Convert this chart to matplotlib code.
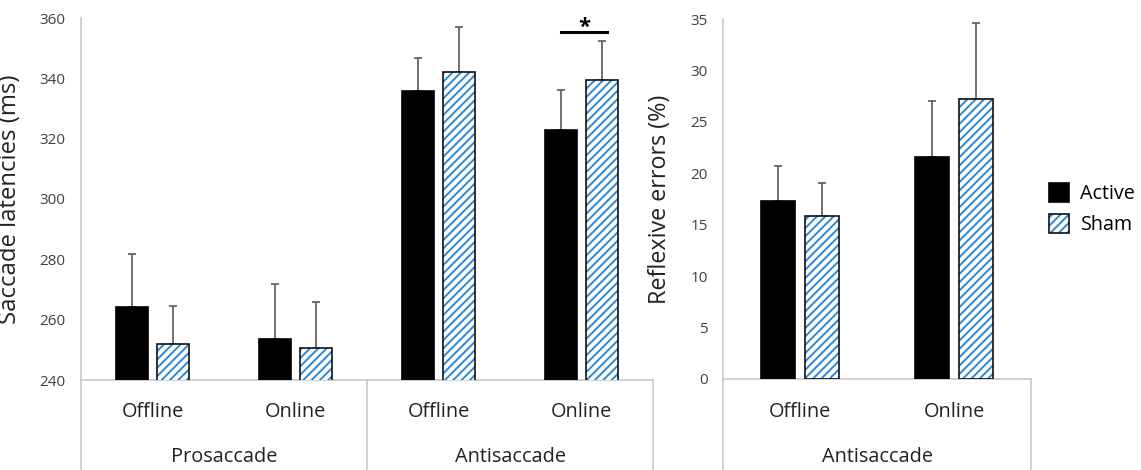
import matplotlib
matplotlib.use("Agg")
import matplotlib.pyplot as plt
import numpy as np
from matplotlib.lines import Line2D
from matplotlib.legend_handler import HandlerTuple

plt.rcParams['font.family'] = ['Open Sans', 'DejaVu Sans']
plt.rcParams['hatch.linewidth'] = 1.4

# ---- data ----
conditions = ["Offline", "Online"]
groups_left = ["Prosaccade", "Antisaccade"]
groups_right = ["Antisaccade"]
series = ["Active", "Sham"]

# Saccade latencies (ms): Prosaccade Offline, Prosaccade Online, Antisaccade Offline, Antisaccade Online
lat_active = [264.1, 253.7, 335.9, 323.0]
lat_active_err = [17.7, 18.0, 10.9, 13.0]
lat_sham = [251.9, 250.6, 342.2, 339.6]
lat_sham_err = [12.5, 15.4, 14.8, 12.8]

# Reflexive errors (%): Antisaccade Offline, Antisaccade Online
err_active = [17.3, 21.6]
err_active_err = [3.45, 5.45]
err_sham = [15.8, 27.2]
err_sham_err = [3.3, 7.4]

lat_ticks = [240, 260, 280, 300, 320, 340, 360]
err_ticks = [0, 5, 10, 15, 20, 25, 30, 35]

W, H = 1141, 470
fig = plt.figure(figsize=(W / 100, H / 100), dpi=100)

def fx(px):
    return px / W

def fy(py):
    return 1 - py / H

axis_col = '#C8C8C8'
ebar_col = '#595959'
hatch_col = '#2E88D4'
text_col = '#222222'

bw = 0.22
off = 0.142

def draw_bars(ax, active, aerr, sham, serr):
    n = len(active)
    x = np.arange(n) + 0.5
    za = np.zeros(n)
    ekw = dict(ecolor=ebar_col, elinewidth=1.2, capsize=3, capthick=1.2, zorder=2)
    b1 = ax.bar(x - off, active, bw, color='black', edgecolor='black', linewidth=1.2,
                yerr=[za, aerr], error_kw=ekw, zorder=3)
    b2h = ax.bar(x + off, sham, bw, color='white', edgecolor=hatch_col, linewidth=0, hatch='////',
                 yerr=[za, serr], error_kw=ekw, zorder=3)
    b2o = ax.bar(x + off, sham, bw, fill=False, edgecolor='#111111', linewidth=1.2, zorder=4)
    ax.set_xlim(0, n)
    return b1, (b2h, b2o)

# ---- left axes ----
axL = fig.add_axes([fx(81), fy(380), fx(653) - fx(81), fy(18) - fy(380)])
b1, b2 = draw_bars(axL, lat_active, lat_active_err, lat_sham, lat_sham_err)
axL.set_ylim(lat_ticks[0], lat_ticks[-1])
axL.set_yticks(lat_ticks)
axL.set_xticks([])
for s in ['top', 'right', 'left']:
    axL.spines[s].set_visible(False)
axL.spines['bottom'].set_color(axis_col)
axL.spines['bottom'].set_linewidth(1.2)
axL.tick_params(axis='y', length=0, pad=11.5, labelsize=11, labelcolor='#404040')
axL.set_ylabel("Saccade latencies (ms)", fontsize=17.2, color=text_col)
axL.yaxis.set_label_coords((22 - 81) / 572, 0.5)

# significance marker
axL.plot([3.36, 3.68], [355.2, 355.2], color='black', linewidth=2.2, clip_on=False, zorder=4)
axL.text(3.52, 356.8, "*", ha='center', va='center', fontsize=16, fontweight='bold', color='black')

# ---- right axes ----
axR = fig.add_axes([fx(723), fy(379), fx(1031) - fx(723), fy(19) - fy(379)])
r1, r2 = draw_bars(axR, err_active, err_active_err, err_sham, err_sham_err)
axR.set_ylim(err_ticks[0], err_ticks[-1])
axR.set_yticks(err_ticks)
axR.set_xticks([])
for s in ['top', 'right', 'left']:
    axR.spines[s].set_visible(False)
axR.spines['bottom'].set_color(axis_col)
axR.spines['bottom'].set_linewidth(1.2)
axR.tick_params(axis='y', length=0, pad=11, labelsize=11, labelcolor='#404040')
axR.set_ylabel("Reflexive errors (%)", fontsize=16.8, color=text_col)
axR.yaxis.set_label_coords((672 - 723) / 308, 0.5)

# ---- category axis lines (figure coords) ----
def vline(px, py0, py1):
    fig.add_artist(Line2D([fx(px), fx(px)], [fy(py0), fy(py1)], color=axis_col, linewidth=1.2))

vline(81, 18, 470)
vline(367.5, 380, 470)
vline(653, 380, 470)
vline(723, 19, 470)
vline(1031, 379, 470)

# condition labels
lab_kw = dict(ha='center', va='center', fontsize=14.3, color=text_col)
for gi in range(len(groups_left)):
    for ci, c in enumerate(conditions):
        xd = gi * len(conditions) + ci + 0.5
        xf = fx(81) + (fx(653) - fx(81)) * xd / 4
        fig.text(xf, fy(412), c, **lab_kw)
    xf = fx(81) + (fx(653) - fx(81)) * (gi * 2 + 1) / 4
    fig.text(xf, fy(457), groups_left[gi], **lab_kw)

for ci, c in enumerate(conditions):
    xf = fx(723) + (fx(1031) - fx(723)) * (ci + 0.5) / 2
    fig.text(xf, fy(412), c, **lab_kw)
fig.text((fx(723) + fx(1031)) / 2, fy(457), groups_right[0], **lab_kw)

# legend
fig.legend([r1, r2], series, loc='upper left', bbox_to_anchor=(fx(1045), fy(179)),
           frameon=False, fontsize=14.2, handlelength=1.0, handleheight=1.1,
           handletextpad=0.6, labelspacing=0.5, borderpad=0.2, borderaxespad=0,
           handler_map={tuple: HandlerTuple(ndivide=1, pad=0)})

fig.savefig("out.png", dpi=100, facecolor='white')
